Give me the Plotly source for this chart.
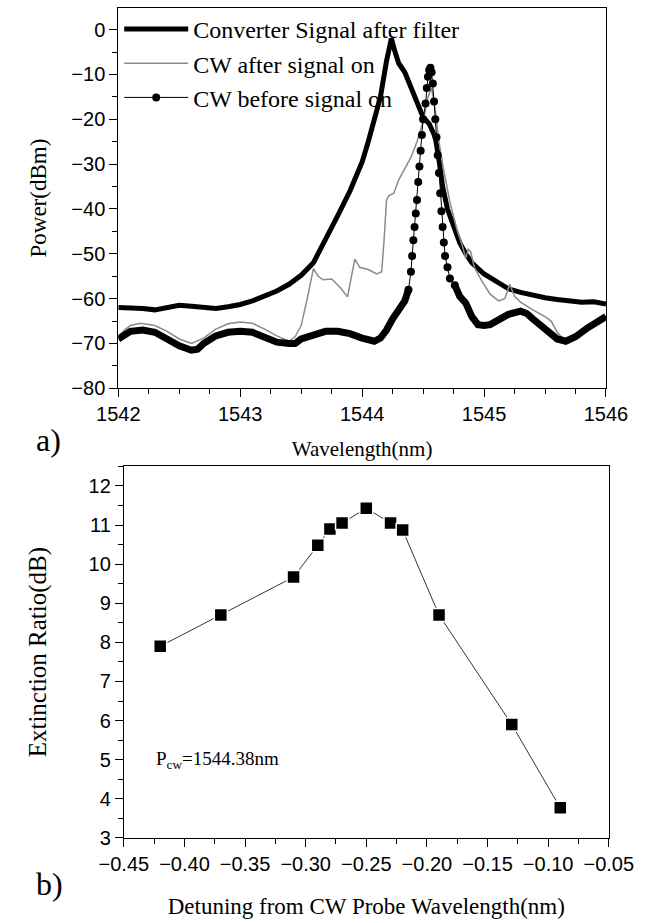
import plotly.graph_objects as go

# ---- (a) optical spectra ----
conv_wl = [1542.00, 1542.10, 1542.20, 1542.30, 1542.40, 1542.50, 1542.60, 1542.70, 1542.80,
           1542.90, 1543.00, 1543.10, 1543.20, 1543.30, 1543.40, 1543.50, 1543.60, 1543.70,
           1543.80, 1543.90, 1543.95, 1544.00, 1544.05, 1544.10, 1544.15, 1544.20, 1544.24,
           1544.27, 1544.30, 1544.35, 1544.40, 1544.45, 1544.50, 1544.55, 1544.60, 1544.63,
           1544.66, 1544.70, 1544.75, 1544.80, 1544.85, 1544.90, 1545.00, 1545.10, 1545.20,
           1545.30, 1545.40, 1545.50, 1545.60, 1545.70, 1545.80, 1545.90, 1546.00]
conv_dbm = [-62.0, -62.0, -62.2, -62.5, -62.0, -61.5, -61.7, -62.0, -62.2,
            -61.8, -61.3, -60.5, -59.5, -58.3, -56.8, -54.8, -52.0, -47.0,
            -41.5, -36.0, -33.0, -29.5, -25.0, -19.5, -15.0, -7.0, -2.0,
            -5.0, -7.5, -9.5, -13.0, -16.5, -19.5, -21.0, -24.0, -29.0,
            -35.0, -40.0, -44.0, -47.5, -50.0, -52.0, -54.5, -56.3, -57.8,
            -58.6, -59.3, -59.8, -60.2, -60.6, -60.8, -60.7, -61.2]

after_wl = [1542.00, 1542.05, 1542.10, 1542.18, 1542.30, 1542.40, 1542.50, 1542.60, 1542.70,
            1542.80, 1542.90, 1543.00, 1543.10, 1543.20, 1543.30, 1543.40, 1543.45, 1543.50,
            1543.55, 1543.60, 1543.64, 1543.68, 1543.75, 1543.82, 1543.88, 1543.91, 1543.94,
            1543.98, 1544.05, 1544.12, 1544.16, 1544.18, 1544.20, 1544.22, 1544.26, 1544.30,
            1544.35, 1544.40, 1544.45, 1544.50, 1544.54, 1544.57, 1544.60, 1544.63, 1544.67,
            1544.72, 1544.78, 1544.82, 1544.85, 1544.87, 1544.89, 1544.92, 1544.98, 1545.05,
            1545.12, 1545.17, 1545.21, 1545.25, 1545.30, 1545.40, 1545.50, 1545.55, 1545.60,
            1545.65, 1545.70]
after_dbm = [-68.5, -67.0, -66.0, -65.5, -66.0, -67.3, -69.0, -70.0, -68.8,
             -66.8, -65.6, -65.2, -65.5, -66.8, -68.3, -69.5, -68.5, -66.0,
             -60.0, -53.3, -55.0, -55.8, -55.6, -57.5, -59.6, -55.0, -51.2,
             -53.0, -53.5, -54.5, -54.0, -47.0, -38.0, -37.0, -36.5, -33.5,
             -31.0, -28.5, -25.0, -20.5, -15.0, -13.0, -18.0, -25.0, -31.5,
             -38.5, -44.8, -48.0, -51.0, -49.0, -49.5, -53.0, -56.0, -59.0,
             -60.5, -60.0, -56.8, -59.5, -60.8, -62.5, -64.0, -65.0, -67.5,
             -69.0, -69.5]

before_left_wl = [1542.00, 1542.05, 1542.10, 1542.20, 1542.30, 1542.40, 1542.50, 1542.60,
                  1542.65, 1542.70, 1542.80, 1542.90, 1543.00, 1543.10, 1543.20, 1543.30,
                  1543.40, 1543.45, 1543.50, 1543.60, 1543.70, 1543.80, 1543.90, 1544.00,
                  1544.10, 1544.15, 1544.20, 1544.25, 1544.30, 1544.35, 1544.38]
before_left_dbm = [-69.0, -68.0, -67.3, -67.0, -67.5, -69.0, -70.5, -71.5,
                   -71.3, -70.0, -68.3, -67.5, -67.3, -67.5, -68.5, -69.7,
                   -70.0, -70.0, -69.0, -68.0, -67.3, -67.3, -67.8, -68.8,
                   -69.5, -68.8, -67.0, -64.5, -62.5, -60.5, -58.0]

before_peak_wl = [1544.38, 1544.40, 1544.41, 1544.42, 1544.43, 1544.44, 1544.45, 1544.46,
                  1544.47, 1544.48, 1544.49, 1544.50, 1544.52, 1544.53, 1544.54, 1544.55,
                  1544.56, 1544.57, 1544.58, 1544.59, 1544.60, 1544.61, 1544.62, 1544.63,
                  1544.64, 1544.65, 1544.66, 1544.67, 1544.68, 1544.70, 1544.72, 1544.76]
before_peak_dbm = [-58.0, -54.0, -50.5, -47.0, -44.0, -41.0, -38.0, -34.0,
                   -30.5, -27.0, -23.5, -20.0, -16.5, -13.0, -10.5, -9.0,
                   -8.5, -9.5, -12.0, -16.0, -20.0, -24.0, -28.0, -32.0,
                   -36.5, -40.5, -44.0, -47.5, -50.5, -53.0, -55.5, -57.0]

before_right_wl = [1544.76, 1544.80, 1544.85, 1544.90, 1544.95, 1545.00, 1545.05, 1545.10,
                   1545.20, 1545.30, 1545.35, 1545.40, 1545.50, 1545.60, 1545.67, 1545.75,
                   1545.85, 1545.95, 1546.00]
before_right_dbm = [-57.0, -59.5, -61.0, -64.0, -65.8, -66.0, -65.8, -65.0,
                    -63.5, -62.8, -63.3, -64.5, -67.0, -69.0, -69.5, -68.5,
                    -66.5, -64.8, -64.0]

# ---- (b) extinction ratio vs detuning ----
detuning_nm = [-0.42, -0.37, -0.31, -0.29, -0.28, -0.27, -0.25, -0.23, -0.22, -0.19, -0.13, -0.09]
extinction_db = [7.9, 8.7, 9.67, 10.48, 10.9, 11.05, 11.43, 11.05, 10.87, 8.7, 5.9, 3.77]

SERIF = "Liberation Serif, Times New Roman, serif"
SANS = "Liberation Sans, Arial, sans-serif"

fig = go.Figure()

fig.add_trace(go.Scatter(x=conv_wl, y=conv_dbm, mode="lines", name="Converter Signal after filter",
                         line=dict(color="black", width=5), legendgroup="a",
                         xaxis="x", yaxis="y"))
fig.add_trace(go.Scatter(x=after_wl, y=after_dbm, mode="lines", name="CW after signal on",
                         line=dict(color="#8a8a8a", width=1.5), legendgroup="b",
                         xaxis="x", yaxis="y"))
fig.add_trace(go.Scatter(x=before_left_wl, y=before_left_dbm, mode="lines", showlegend=False,
                         line=dict(color="black", width=7), xaxis="x", yaxis="y"))
fig.add_trace(go.Scatter(x=before_right_wl, y=before_right_dbm, mode="lines", showlegend=False,
                         line=dict(color="black", width=7), xaxis="x", yaxis="y"))
fig.add_trace(go.Scatter(x=before_peak_wl, y=before_peak_dbm, mode="lines+markers",
                         name="CW before signal on", legendgroup="c",
                         line=dict(color="black", width=1),
                         marker=dict(color="black", size=8, symbol="circle"),
                         xaxis="x", yaxis="y"))

fig.add_trace(go.Scatter(x=detuning_nm, y=extinction_db, mode="lines+markers", showlegend=False,
                         line=dict(color="#333333", width=1),
                         marker=dict(color="black", size=13, symbol="square",
                                     line=dict(color="white", width=1.5)),
                         xaxis="x2", yaxis="y2"))

axis_common = dict(showline=True, linecolor="black", linewidth=1, mirror=True,
                   ticks="outside", ticklen=8, tickwidth=1, tickcolor="black",
                   showgrid=False, zeroline=False,
                   tickfont=dict(family=SANS, size=20, color="black"))

W, H = 655, 923
fig.update_layout(
    width=W, height=H,
    margin=dict(l=0, r=0, t=0, b=0),
    paper_bgcolor="white", plot_bgcolor="white",
    showlegend=True,
    legend=dict(x=102 / W, y=1 - 7 / H, xanchor="left", yanchor="top",
                bgcolor="rgba(0,0,0,0)", borderwidth=0, itemwidth=64,
                tracegroupgap=0,
                font=dict(family=SERIF, size=24, color="black")),
    xaxis=dict(axis_common, domain=[101 / W, 629 / W], range=[1542, 1546], dtick=1,
               anchor="y",
               minor=dict(dtick=0.25, ticklen=5, ticks="outside", tickcolor="black"),
               title=dict(text="Wavelength(nm)", standoff=16,
                          font=dict(family=SERIF, size=21, color="black"))),
    yaxis=dict(axis_common, domain=[1 - 393 / H, 1 - 8 / H], range=[-80, 4.85], dtick=10,
               anchor="x",
               minor=dict(dtick=5, ticklen=5, ticks="outside", tickcolor="black"),
               title=dict(text="Power(dBm)", standoff=18,
                          font=dict(family=SERIF, size=23, color="black"))),
    xaxis2=dict(axis_common, domain=[107 / W, 632 / W], range=[-0.45, -0.05], dtick=0.05,
                tick0=-0.45, tickformat=".2f", anchor="y2",
                minor=dict(dtick=0.025, ticklen=5, ticks="outside", tickcolor="black"),
                title=dict(text="Detuning from CW Probe Wavelength(nm)", standoff=24,
                           font=dict(family=SERIF, size=23, color="black"))),
    yaxis2=dict(axis_common, domain=[1 - 848 / H, 1 - 472 / H], range=[3, 12.5], dtick=1,
                anchor="x2",
                minor=dict(dtick=0.5, ticklen=5, ticks="outside", tickcolor="black"),
                title=dict(text="Extinction Ratio(dB)", standoff=34,
                           font=dict(family=SERIF, size=25, color="black"))),
)

fig.add_annotation(x=-0.425, y=5.0, xref="x2", yref="y2", xanchor="left", yanchor="middle",
                   text="P<sub>cw</sub>=1544.38nm", showarrow=False,
                   font=dict(family=SERIF, size=19, color="black"))
fig.add_annotation(x=10 / W, y=1 - 445 / H, xref="paper", yref="paper", xanchor="left",
                   yanchor="middle", text="a)", showarrow=False,
                   font=dict(family=SERIF, size=32, color="black"))
fig.add_annotation(x=10 / W, y=1 - 895 / H, xref="paper", yref="paper", xanchor="left",
                   yanchor="middle", text="b)", showarrow=False,
                   font=dict(family=SERIF, size=32, color="black"))

fig.write_html("out.html")
